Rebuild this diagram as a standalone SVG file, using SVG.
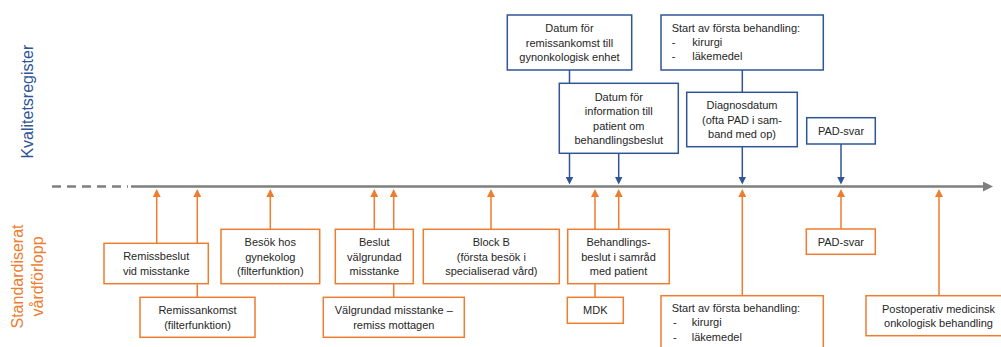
<svg xmlns="http://www.w3.org/2000/svg" width="1001" height="347" viewBox="0 0 1001 347">
<style>
text{font-family:"Liberation Sans",Arial,sans-serif;font-size:11px;fill:#262626}
.c{text-anchor:middle}
.bb{fill:#fff;stroke:#2F5597;stroke-width:1.5}
.ob{fill:#fff;stroke:#ED7D31;stroke-width:1.5}
.bl{stroke:#2F5597;stroke-width:1.5;fill:none}
.ol{stroke:#ED7D31;stroke-width:1.5;fill:none}
.lbl{font-size:16px}
</style>
<defs>
<marker id="ao" viewBox="0 0 10 10" refX="5" refY="5" markerWidth="9" markerHeight="8" markerUnits="userSpaceOnUse" orient="auto"><path d="M0,0L10,5L0,10z" fill="#ED7D31"/></marker>
<marker id="ab" viewBox="0 0 10 10" refX="5" refY="5" markerWidth="8" markerHeight="8" markerUnits="userSpaceOnUse" orient="auto"><path d="M0,0L10,5L0,10z" fill="#2F5597"/></marker>
<marker id="ag" viewBox="0 0 10 10" refX="2" refY="5" markerWidth="10" markerHeight="10" markerUnits="userSpaceOnUse" orient="auto"><path d="M0,0L10,5L0,10z" fill="#7F7F7F"/></marker>
</defs>
<rect width="1001" height="347" fill="#fff"/>
<g id="labels">
<text class="lbl c" transform="translate(33.3,101.7) rotate(-90)" style="fill:#2F5597">Kvalitetsregister</text>
<text class="lbl c" transform="translate(23.3,276.5) rotate(-90)" style="fill:#ED7D31">Standardiserat</text>
<text class="lbl c" transform="translate(42.8,276.5) rotate(-90)" style="fill:#ED7D31">vårdförlopp</text>
</g>
<g id="timeline">
<line x1="52" y1="186.5" x2="128" y2="186.5" stroke="#7F7F7F" stroke-width="2.5" stroke-dasharray="9,6"/>
<line x1="131" y1="186.5" x2="985" y2="186.5" stroke="#7F7F7F" stroke-width="2.5" marker-end="url(#ag)"/>
</g>
<g id="connectors">
<line class="ol" x1="156.7" y1="243.3" x2="156.7" y2="193" marker-end="url(#ao)"/>
<line class="ol" x1="197.3" y1="297.3" x2="197.3" y2="193" marker-end="url(#ao)"/>
<line class="ol" x1="270.3" y1="229.3" x2="270.3" y2="193" marker-end="url(#ao)"/>
<line class="ol" x1="374.3" y1="229.3" x2="374.3" y2="193" marker-end="url(#ao)"/>
<line class="ol" x1="393.7" y1="297.3" x2="393.7" y2="193" marker-end="url(#ao)"/>
<line class="ol" x1="491" y1="229.3" x2="491" y2="193" marker-end="url(#ao)"/>
<line class="ol" x1="595" y1="297.3" x2="595" y2="193" marker-end="url(#ao)"/>
<line class="ol" x1="618.7" y1="229.3" x2="618.7" y2="193" marker-end="url(#ao)"/>
<line class="ol" x1="742.3" y1="295.7" x2="742.3" y2="193" marker-end="url(#ao)"/>
<line class="ol" x1="841" y1="229" x2="841" y2="193" marker-end="url(#ao)"/>
<line class="ol" x1="939" y1="295.7" x2="939" y2="193" marker-end="url(#ao)"/>
<line class="bl" x1="569.5" y1="70" x2="569.5" y2="180.5" marker-end="url(#ab)"/>
<line class="bl" x1="618.7" y1="153.3" x2="618.7" y2="180.5" marker-end="url(#ab)"/>
<line class="bl" x1="742.3" y1="70" x2="742.3" y2="180.5" marker-end="url(#ab)"/>
<line class="bl" x1="841" y1="144" x2="841" y2="180.5" marker-end="url(#ab)"/>
</g>
<g id="n-datum-remiss">
<rect class="bb" x="507.3" y="15" width="124.4" height="55"/>
<text class="c" x="569.5" y="32.2">Datum för</text>
<text class="c" x="569.5" y="46.5">remissankomst till</text>
<text class="c" x="569.5" y="60.8">gynonkologisk enhet</text>
</g>
<g id="n-datum-info">
<rect class="bb" x="559.3" y="83.3" width="119" height="70"/>
<text class="c" x="618.8" y="101">Datum för</text>
<text class="c" x="618.8" y="115.3">information till</text>
<text class="c" x="618.8" y="129.6">patient om</text>
<text class="c" x="618.8" y="143.9">behandlingsbeslut</text>
</g>
<g id="n-start-top">
<rect class="bb" x="661" y="15" width="162.3" height="55"/>
<text x="671.7" y="31.7">Start av första behandling:</text>
<text x="671.7" y="45.9">-</text><text x="692.3" y="45.9">kirurgi</text>
<text x="671.7" y="60.1">-</text><text x="692.3" y="60.1">läkemedel</text>
</g>
<g id="n-diagnos">
<rect class="bb" x="686.7" y="92.3" width="110.6" height="54.4"/>
<text class="c" x="742" y="109.2">Diagnosdatum</text>
<text class="c" x="742" y="123.5">(ofta PAD i sam-</text>
<text class="c" x="742" y="137.8">band med op)</text>
</g>
<g id="n-pad-top">
<rect class="bb" x="806.7" y="117.7" width="68.6" height="26.3"/>
<text class="c" x="841" y="134.9">PAD-svar</text>
</g>
<g id="n-remissbeslut">
<rect class="ob" x="104" y="243.3" width="104.3" height="40.4"/>
<text class="c" x="156.2" y="260.4">Remissbeslut</text>
<text class="c" x="156.2" y="274.7">vid misstanke</text>
</g>
<g id="n-remissankomst">
<rect class="ob" x="140" y="297.3" width="115" height="40"/>
<text class="c" x="197.5" y="314.2">Remissankomst</text>
<text class="c" x="197.5" y="328.5">(filterfunktion)</text>
</g>
<g id="n-besok">
<rect class="ob" x="221" y="229.3" width="98.7" height="54.4"/>
<text class="c" x="270.3" y="246.2">Besök hos</text>
<text class="c" x="270.3" y="260.5">gynekolog</text>
<text class="c" x="270.3" y="274.8">(filterfunktion)</text>
</g>
<g id="n-beslut">
<rect class="ob" x="335.3" y="229.3" width="78" height="54.4"/>
<text class="c" x="374.3" y="246.2">Beslut</text>
<text class="c" x="374.3" y="260.5">välgrundad</text>
<text class="c" x="374.3" y="274.8">misstanke</text>
</g>
<g id="n-valgrundad">
<rect class="ob" x="323.3" y="297.3" width="141" height="40"/>
<text class="c" x="393.8" y="314.2">Välgrundad misstanke –</text>
<text class="c" x="393.8" y="328.5">remiss mottagen</text>
</g>
<g id="n-blockb">
<rect class="ob" x="423.3" y="229.3" width="136" height="54.4"/>
<text class="c" x="491.3" y="246.2">Block B</text>
<text class="c" x="491.3" y="260.5">(första besök i</text>
<text class="c" x="491.3" y="274.8">specialiserad vård)</text>
</g>
<g id="n-behandlingsbeslut">
<rect class="ob" x="567.7" y="229.3" width="101.6" height="54.4"/>
<text class="c" x="618.5" y="246.2">Behandlings-</text>
<text class="c" x="618.5" y="260.5">beslut i samråd</text>
<text class="c" x="618.5" y="274.8">med patient</text>
</g>
<g id="n-mdk">
<rect class="ob" x="567.3" y="297.3" width="56" height="26"/>
<text class="c" x="595.3" y="314.3">MDK</text>
</g>
<g id="n-start-bottom">
<rect class="ob" x="661" y="295.7" width="162.3" height="70"/>
<text x="671.7" y="311.7">Start av första behandling:</text>
<text x="673" y="326.3">-</text><text x="691.7" y="326.3">kirurgi</text>
<text x="673" y="340.5">-</text><text x="691.7" y="340.5">läkemedel</text>
</g>
<g id="n-pad-bottom">
<rect class="ob" x="806.3" y="229" width="69" height="25.3"/>
<text class="c" x="840.8" y="245.7">PAD-svar</text>
</g>
<g id="n-postop">
<rect class="ob" x="866" y="295.7" width="140" height="40"/>
<text class="c" x="938.5" y="312.5">Postoperativ medicinsk</text>
<text class="c" x="938.5" y="326.8">onkologisk behandling</text>
</g>
</svg>
